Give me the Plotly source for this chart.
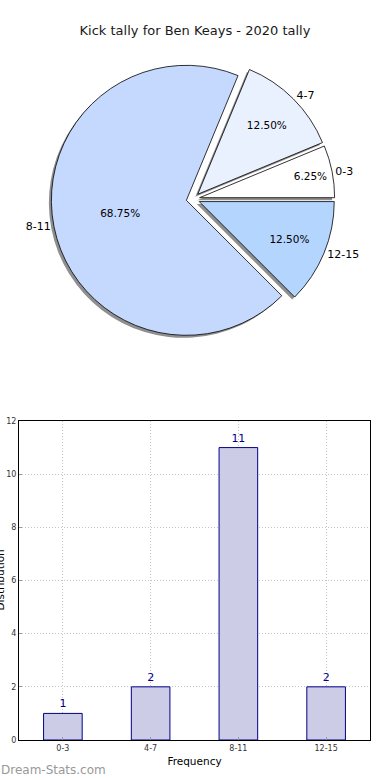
import plotly.graph_objects as go

# ---- data ----
categories = ["0-3", "4-7", "8-11", "12-15"]
kicks = [1, 2, 11, 2]
pie_colors = ["#ffffff", "#eaf1fe", "#c5d9fe", "#b4d5fe"]
y_ticks = [0, 2, 4, 6, 8, 10, 12]

title_text = "Kick tally for Ben Keays - 2020 tally"
x_title = "Frequency"
y_title = "Distribution"
watermark = "Dream-Stats.com"

FONT = "DejaVu Sans"
W, H = 390, 780
ML, MR, MT, MB = 19, 20, 0, 40
plot_h = H - MT - MB
plot_w = W - ML - MR

# pie geometry (pixels)
pie_cx, pie_cy, pie_r = 193, 199, 135
pull = 0.05
box = 2 * pie_r * (1 + pull)

# first slice starts at 3 o'clock and runs counterclockwise
start_rotation = 90 - 360 * kicks[0] / sum(kicks)


def dom_x(cx, half):
    return [(cx - half - ML) / plot_w, (cx + half - ML) / plot_w]


def dom_y(cy, half):
    return [(H - MB - (cy + half)) / plot_h, (H - MB - (cy - half)) / plot_h]


half_w = min(pie_cx - ML, W - MR - pie_cx) - 4
pie_dom_x = dom_x(pie_cx, half_w)
pie_dom_y = dom_y(pie_cy, box / 2)
sh_dom_x = dom_x(pie_cx - 2.5, half_w)
sh_dom_y = dom_y(pie_cy + 2.5, box / 2)

fig = go.Figure()

common = dict(
    labels=categories,
    values=kicks,
    sort=False,
    direction="counterclockwise",
    rotation=start_rotation,
    pull=[pull] * len(kicks),
    showlegend=False,
    automargin=False,
)

# shadow
fig.add_trace(go.Pie(
    **common,
    domain=dict(x=sh_dom_x, y=sh_dom_y),
    marker=dict(colors=["#8f8f8f"] * len(kicks), line=dict(width=0)),
    textinfo="none",
    hoverinfo="skip",
))

# main pie with percentages inside
fig.add_trace(go.Pie(
    **common,
    domain=dict(x=pie_dom_x, y=pie_dom_y),
    marker=dict(colors=pie_colors, line=dict(color="#000000", width=0.8)),
    texttemplate="%{percent:.2%}",
    textposition="inside",
    insidetextorientation="horizontal",
    textfont=dict(family=FONT, size=10.5, color="#000000"),
    hovertemplate="%{label}: %{value}<extra></extra>",
))

# category labels outside
fig.add_trace(go.Pie(
    **common,
    domain=dict(x=pie_dom_x, y=pie_dom_y),
    marker=dict(colors=["rgba(0,0,0,0)"] * len(kicks), line=dict(width=0)),
    texttemplate="%{label}",
    textposition="outside",
    outsidetextfont=dict(family=FONT, size=11, color="#000000"),
    hoverinfo="skip",
))

# bar chart
fig.add_trace(go.Bar(
    x=categories,
    y=kicks,
    marker=dict(color="#ccccE6", line=dict(color="#00008b", width=1)),
    text=[str(v) for v in kicks],
    textposition="outside",
    textfont=dict(family=FONT, size=11, color="#00008b"),
    cliponaxis=False,
    width=0.44,
    showlegend=False,
    hovertemplate="%{x}: %{y}<extra></extra>",
))

bar_top = 421
fig.update_layout(
    template="none",
    width=W,
    height=H,
    margin=dict(l=ML, r=MR, t=MT, b=MB, autoexpand=False),
    paper_bgcolor="#ffffff",
    plot_bgcolor="#ffffff",
    font=dict(family=FONT, color="#000000"),
    uniformtext=dict(minsize=10.5, mode="show"),
    title=dict(
        text=title_text,
        x=0.5, xanchor="center",
        y=1 - 30 / H, yanchor="middle", yref="container",
        font=dict(family=FONT, size=13, color="#1a1a1a"),
    ),
    xaxis=dict(
        domain=[0, 1],
        range=[-0.5, 3.5],
        automargin=False,
        showline=True, linecolor="#000000", linewidth=1, mirror=True,
        showgrid=True, gridcolor="#c4c4c4", griddash="1px,2px", gridwidth=1,
        ticks="inside", ticklen=3, tickcolor="#999999",
        tickfont=dict(family=FONT, size=8, color="#333333"),
        title=dict(text=x_title, font=dict(family=FONT, size=10.5, color="#000000"), standoff=6),
        zeroline=False,
        fixedrange=True,
    ),
    yaxis=dict(
        domain=[0, (H - MB - bar_top) / plot_h],
        range=[0, 12],
        automargin=False,
        tickvals=y_ticks,
        ticktext=[str(v) for v in y_ticks],
        showline=True, linecolor="#000000", linewidth=1, mirror=True,
        showgrid=True, gridcolor="#c4c4c4", griddash="1px,2px", gridwidth=1,
        ticks="inside", ticklen=3, tickcolor="#999999",
        tickfont=dict(family=FONT, size=8, color="#333333"),
        zeroline=False,
        fixedrange=True,
    ),
    annotations=[
        dict(
            text=y_title, textangle=-90,
            xref="paper", yref="paper",
            x=0, y=(H - MB - (bar_top + 740) / 2) / plot_h,
            xanchor="center", yanchor="middle",
            xshift=-20, showarrow=False,
            font=dict(family=FONT, size=10.5, color="#000000"),
        ),
        dict(
            text=watermark,
            xref="paper", yref="paper",
            x=0, y=0,
            xanchor="left", yanchor="middle",
            xshift=-ML - 1, yshift=-(770 - (H - MB)),
            showarrow=False,
            font=dict(family=FONT, size=12, color="#999999"),
        ),
    ],
)

fig.write_html(
    "out.html",
    config={"displayModeBar": False},
    post_script="document.body.style.margin='0';",
)
